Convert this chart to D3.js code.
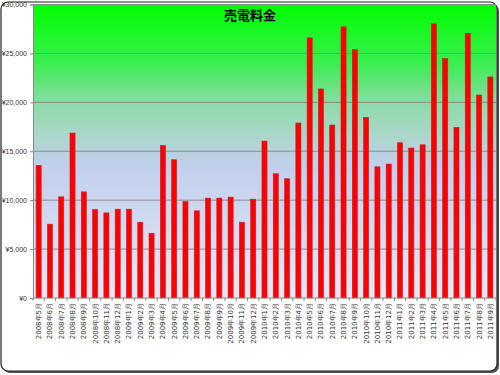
<!DOCTYPE html>
<html>
<head>
<meta charset="utf-8">
<script src="https://cdn.jsdelivr.net/npm/d3@7"></script>
<style>
body { margin: 0; background: #fff; }
svg { display: block; }
</style>
</head>
<body>
<div id="chart"></div>
<script>
// months shown on the x axis
var months = ["2008年5月","2008年6月","2008年7月","2008年8月","2008年9月","2008年10月","2008年11月","2008年12月",
  "2009年1月","2009年2月","2009年3月","2009年4月","2009年5月","2009年6月","2009年7月","2009年8月","2009年9月","2009年10月","2009年11月","2009年12月",
  "2010年1月","2010年2月","2010年3月","2010年4月","2010年5月","2010年6月","2010年7月","2010年8月","2010年9月","2010年10月","2010年11月","2010年12月",
  "2011年1月","2011年2月","2011年3月","2011年4月","2011年5月","2011年6月","2011年7月","2011年8月","2011年9月"]

// yen per month
var amounts = [13550, 7550, 10340, 16860, 10850, 9040, 8700, 9080,
  9080, 7750, 6620, 15590, 14130, 9860, 8910, 10210, 10210, 10310, 7750, 10100,
  16040, 12700, 12190, 17890, 26590, 21370, 17680, 27720, 25390, 18460, 13410, 13690,
  15870, 15330, 15660, 28020, 24470, 17440, 27060, 20750, 22600]

var yTicks = [0, 5000, 10000, 15000, 20000, 25000, 30000]

var title = "売電料金"

var w = 500, h = 375
// plot area edges (window.top is reserved, so use other names)
var pL = 33, pR = 496, pT = 4.5, pB = 298

var svg = d3.select("#chart").append("svg")
  .attr("width", w)
  .attr("height", h)

var defs = svg.append("defs")
var grad = defs.append("linearGradient")
  .attr("id", "bg")
  .attr("x1", 0).attr("y1", 0).attr("x2", 0).attr("y2", 1)
grad.append("stop").attr("offset", "0%").attr("stop-color", "#00ff00")
grad.append("stop").attr("offset", "20%").attr("stop-color", "#3bee50")
grad.append("stop").attr("offset", "34%").attr("stop-color", "#8cdba8")
grad.append("stop").attr("offset", "45%").attr("stop-color", "#acd6cc")
grad.append("stop").attr("offset", "55%").attr("stop-color", "#c2cfec")
grad.append("stop").attr("offset", "100%").attr("stop-color", "#e6e8f7")

// outer frame with shadow
svg.append("rect")
  .attr("x", 3).attr("y", 4)
  .attr("width", 496).attr("height", 369)
  .attr("rx", 7)
  .style("fill", "#555")
svg.append("rect")
  .attr("x", 1).attr("y", 2)
  .attr("width", 496).attr("height", 369)
  .attr("rx", 7)
  .style("fill", "#fff")
  .style("stroke", "#222")
  .style("stroke-width", 1.2)

var x = d3.scaleBand()
  .domain(months)
  .range([pL, pR])
  .paddingInner(0.55)
  .paddingOuter(0.275)

var y = d3.scaleLinear()
  .domain([0, 30000])
  .range([pB, pT])

svg.append("rect")
  .attr("x", pL).attr("y", pT)
  .attr("width", pR - pL).attr("height", pB - pT)
  .style("fill", "url(#bg)")

// grid lines
svg.selectAll(".grid")
  .data(yTicks.slice(1))
  .enter()
  .append("line")
  .attr("class", "grid")
  .attr("x1", pL).attr("x2", pR)
  .attr("y1", function(d) {return y(d)})
  .attr("y2", function(d) {return y(d)})
  .style("stroke", "#8a8a8a")
  .style("stroke-width", 1)

var fmt = function(d) {return "¥" + d3.format(",")(d)}

var yAxis = svg.append("g")
  .attr("transform", "translate(" + pL + ",0)")
  .call(d3.axisLeft(y).tickValues(yTicks).tickFormat(fmt).tickSize(3).tickPadding(3))
yAxis.select(".domain").style("stroke", "#888")
yAxis.selectAll(".tick line").style("stroke", "#888")
yAxis.selectAll("text")
  .style("font-family", "Liberation Sans, Arial, sans-serif")
  .style("font-size", "7px")
  .style("fill", "#333")

svg.selectAll(".bar")
  .data(amounts)
  .enter()
  .append("rect")
  .attr("class", "bar")
  .attr("x", function(d, i) {return x(months[i])})
  .attr("y", function(d) {return y(d)})
  .attr("width", x.bandwidth())
  .attr("height", function(d) {return pB - y(d)})
  .style("fill", "#ff0000")
  .style("stroke", "#c82020")
  .style("stroke-width", 0.6)

// x axis with ticks between categories
var xAxis = svg.append("g")
  .attr("transform", "translate(0," + pB + ")")
xAxis.append("line")
  .attr("x1", pL).attr("x2", pR)
  .style("stroke", "#888")
xAxis.selectAll(".xt")
  .data(d3.range(months.length + 1))
  .enter()
  .append("line")
  .attr("class", "xt")
  .attr("x1", function(i) {return pL + i * x.step()})
  .attr("x2", function(i) {return pL + i * x.step()})
  .attr("y1", 0).attr("y2", 3)
  .style("stroke", "#888")

xAxis.selectAll(".xl")
  .data(months)
  .enter()
  .append("text")
  .attr("class", "xl")
  .attr("transform", function(d) {
    return "translate(" + (x(d) + x.bandwidth() / 2) + ",5) rotate(-90)"
  })
  .attr("dy", "0.35em")
  .attr("text-anchor", "end")
  .style("font-family", "DejaVu Sans, sans-serif")
  .style("font-size", "7px")
  .style("fill", "#333")
  .text(function(d) {return d})

svg.append("text")
  .attr("x", 250)
  .attr("y", 20)
  .attr("text-anchor", "middle")
  .style("font-family", "Noto Sans CJK JP, sans-serif")
  .style("font-weight", "bold")
  .style("font-size", "13px")
  .style("fill", "#000")
  .text(title)
</script>
</body>
</html>
